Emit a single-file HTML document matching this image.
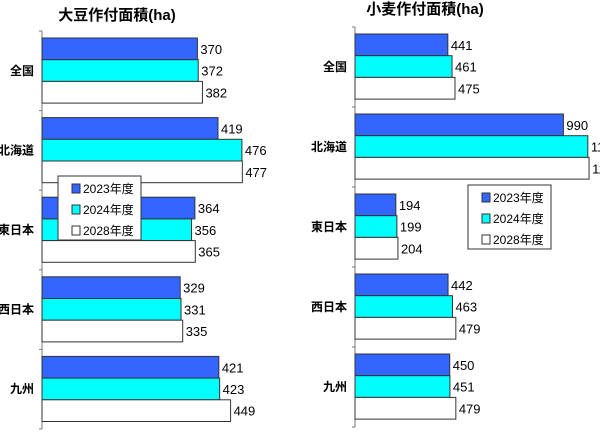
<!DOCTYPE html>
<html><head><meta charset="utf-8"><style>
html,body{margin:0;padding:0;background:#fff;}
svg{display:block;font-family:"Liberation Sans","Noto Sans CJK JP",sans-serif;}
</style></head><body>
<svg id="c" width="600" height="432" viewBox="0 0 600 432">
<text x="117" y="20" text-anchor="middle" font-size="15" font-weight="bold" fill="#000">大豆作付面積(ha)</text>
<text x="425" y="14" text-anchor="middle" font-size="15" font-weight="bold" fill="#000">小麦作付面積(ha)</text>
<g id="left"></g>
<g id="right"></g>
</svg>
<script>
const categories = ["全国","北海道","東日本","西日本","九州"];
const seriesNames = ["2023年度","2024年度","2028年度"];
const soy2023 = [370,419,364,329,421];
const soy2024 = [372,476,356,331,423];
const soy2028 = [382,477,365,335,449];
const wheat2023 = [441,990,194,442,450];
const wheat2024 = [461,1106,199,463,451];
const wheat2028 = [475,1112,204,479,479];
const colors = ["#3366ff","#00ffff","#ffffff"];
const NS = "http://www.w3.org/2000/svg";
function mk(tag, attrs, parent){const e=document.createElementNS(NS,tag);for(const k in attrs)e.setAttribute(k,attrs[k]);parent.appendChild(e);return e;}
function draw(g, cfg, series, prefix){
  const xs = v => cfg.x0 + v*cfg.scale;
  const band = (cfg.bottom-cfg.top)/categories.length;
  const bh = 21.7;
  const ax = mk("line",{x1:cfg.x0,y1:cfg.top,x2:cfg.x0,y2:cfg.bottom,stroke:"#777","stroke-width":1},g);
  
  
  for(let i=0;i<=categories.length;i++){
    const y=cfg.top+i*band;
    const t=mk("line",{x1:cfg.x0-3,y1:y,x2:cfg.x0,y2:y,stroke:"#777","stroke-width":1},g);
    
    
  }
  categories.forEach((c,i)=>{
    const y0=cfg.top+i*band;
    const lab=mk("text",{x:cfg.labelX,y:y0+band/2+4,"text-anchor":"end","font-size":12,"font-weight":"bold",fill:"#000"},g);
    lab.textContent=c;
    
    
    series.forEach((s,j)=>{
      const y=y0+7+j*bh;
      const w=xs(s[i])-cfg.x0;
      const r=mk("rect",{x:cfg.x0,y:y,width:w,height:bh,fill:colors[j],stroke:"#333","stroke-width":1},g);
      
      
      const t=mk("text",{x:xs(s[i])+3,y:y+bh/2+5,"font-size":13,fill:"#000"},g);
      t.textContent=s[i];
      
      
    });
  });
  const lg=mk("g",{},g);
  
  
  mk("rect",{x:cfg.lx,y:cfg.ly,width:83,height:64,fill:"#fff",stroke:"#333","stroke-width":1},lg);
  seriesNames.forEach((n,j)=>{
    const y=cfg.ly+13+j*21;
    const e=mk("g",{},lg);
    
    
    mk("rect",{x:cfg.lx+14,y:y-5,width:8,height:9,fill:colors[j],stroke:"#333","stroke-width":1},e);
    const t=mk("text",{x:cfg.lx+25,y:y+4,"font-size":12,fill:"#000"},e);
    t.textContent=n;
  });
}
draw(document.getElementById("left"),{x0:42,scale:0.420,top:31,bottom:429,labelX:34,lx:58,ly:176},[soy2023,soy2024,soy2028],"soybean");
draw(document.getElementById("right"),{x0:355,scale:0.2105,top:27,bottom:427,labelX:347,lx:468,ly:185},[wheat2023,wheat2024,wheat2028],"wheat");
</script>
</body></html>
